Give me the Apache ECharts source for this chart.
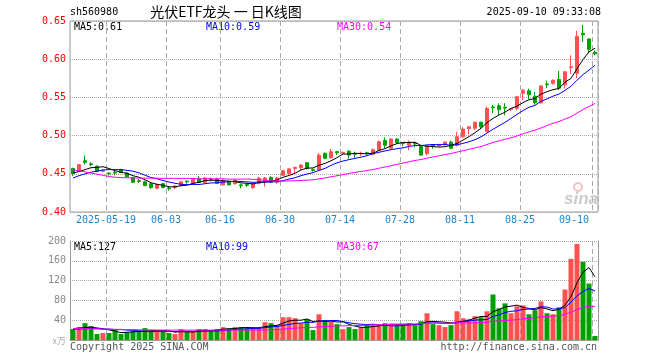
<!DOCTYPE html>
<html><head><meta charset="utf-8">
<script src="https://cdn.jsdelivr.net/npm/echarts@6/dist/echarts.min.js"></script>
<style>html,body{margin:0;padding:0;background:#fff}#c{width:660px;height:360px}</style>
</head><body><div id="c"></div>
<script>
const dates = ['2025-05-09','2025-05-12','2025-05-13','2025-05-14','2025-05-15','2025-05-16','2025-05-19','2025-05-20','2025-05-21','2025-05-22',
'2025-05-23','2025-05-26','2025-05-27','2025-05-28','2025-05-29','2025-05-30','2025-06-03','2025-06-04','2025-06-05','2025-06-06',
'2025-06-09','2025-06-10','2025-06-11','2025-06-12','2025-06-13','2025-06-16','2025-06-17','2025-06-18','2025-06-19','2025-06-20',
'2025-06-23','2025-06-24','2025-06-25','2025-06-26','2025-06-27','2025-06-30','2025-07-01','2025-07-02','2025-07-03','2025-07-04',
'2025-07-07','2025-07-08','2025-07-09','2025-07-10','2025-07-11','2025-07-14','2025-07-15','2025-07-16','2025-07-17','2025-07-18',
'2025-07-21','2025-07-22','2025-07-23','2025-07-24','2025-07-25','2025-07-28','2025-07-29','2025-07-30','2025-07-31','2025-08-01',
'2025-08-04','2025-08-05','2025-08-06','2025-08-07','2025-08-08','2025-08-11','2025-08-12','2025-08-13','2025-08-14','2025-08-15',
'2025-08-18','2025-08-19','2025-08-20','2025-08-21','2025-08-22','2025-08-25','2025-08-26','2025-08-27','2025-08-28','2025-08-29',
'2025-09-01','2025-09-02','2025-09-03','2025-09-04','2025-09-05','2025-09-08','2025-09-09','2025-09-10'];
const tickIdx = [6,16,25,35,45,55,65,75,87];
const tickLabels = ['2025-05-19','06-03','06-16','06-30','07-14','07-28','08-11','08-25','09-10'];

const openP = [.457,.453,.467,.463,.460,.4535,.451,.452,.4555,.451,
.445,.441,.4395,.437,.431,.437,.4315,.432,.4345,.4405,
.4375,.444,.4385,.4435,.443,.4355,.440,.437,.4355,.436,
.432,.4375,.440,.4453,.439,.448,.4505,.457,.458,.4645,
.4555,.455,.4768,.471,.479,.477,.4795,.4765,.476,.4775,
.4755,.481,.4935,.4835,.4955,.4905,.4875,.490,.4855,.4765,
.4875,.4865,.4885,.4915,.4875,.4985,.509,.5095,.5175,.5055,
.5375,.539,.537,.5345,.5357,.5555,.5585,.5515,.543,.5675,
.5685,.5735,.5665,.589,.5815,.634,.6265,.609];
const closeP = [.450,.462,.465,.462,.453,.4545,.450,.451,.4515,.446,
.439,.440,.4345,.432,.436,.432,.4305,.434,.4395,.4395,
.4435,.4385,.4445,.4425,.4375,.4415,.4355,.4415,.4345,.435,
.437,.4445,.4445,.4395,.4445,.454,.4565,.4585,.4615,.457,
.4545,.4745,.4703,.479,.4775,.478,.4745,.4755,.477,.4765,
.4815,.492,.4875,.4955,.491,.4895,.4915,.489,.4745,.4865,
.4865,.4885,.4915,.4835,.4985,.5085,.5115,.5175,.5115,.5355,
.5365,.534,.536,.5355,.5508,.5595,.5535,.543,.565,.5665,
.5725,.562,.5835,.590,.630,.632,.613,.607];
const highP = [.458,.463,.474,.465,.461,.456,.452,.454,.4565,.452,
.446,.443,.441,.438,.437,.438,.434,.435,.440,.441,
.444,.447,.446,.445,.445,.443,.441,.443,.437,.438,
.438,.446,.446,.447,.446,.455,.457,.459,.4625,.465,
.457,.477,.478,.4825,.480,.479,.481,.479,.479,.479,
.483,.4935,.4975,.4965,.497,.491,.4935,.492,.4875,.487,
.489,.489,.492,.4935,.505,.511,.512,.518,.518,.538,
.540,.5423,.5425,.536,.552,.5605,.5615,.557,.566,.572,
.5735,.5845,.5845,.605,.637,.6448,.627,.6115];
const lowP = [.447,.452,.462,.460,.452,.452,.448,.448,.451,.445,
.438,.438,.434,.430,.430,.431,.428,.430,.434,.437,
.437,.438,.437,.440,.437,.435,.435,.436,.431,.433,
.430,.436,.433,.438,.437,.447,.449,.451,.455,.4555,
.453,.4545,.469,.470,.4745,.476,.4695,.471,.473,.474,
.474,.480,.4835,.482,.489,.486,.481,.4845,.4735,.474,
.483,.486,.487,.4825,.486,.497,.5015,.507,.5085,.504,
.529,.527,.5265,.532,.533,.5465,.5475,.5405,.5415,.562,
.5665,.5595,.5615,.5805,.575,.6225,.6077,.605];
const volume = [22,26,34,28,12,14,14,22,12,16,
18,18,24,18,18,18,14,12,22,16,
16,22,22,18,22,26,24,26,26,24,
24,24,36,34,30,46,46,44,34,42,
20,52,40,38,32,22,26,22,26,32,
30,32,34,32,30,30,34,30,38,54,
32,30,26,30,58,44,42,48,46,58,
92,64,74,54,68,70,52,60,78,54,
52,66,102,164,194,158,114,8];

const ma5Head = [.451,.453,.4555,.458];
const ma10Head = [.4445,.4475,.450,.452,.4535,.455,.4555,.4555,.4555];
const ma30Head = [.455,.454,.4525,.451,.4495,.448,.4465,.4455,.445,.4448,.4445,.4443,.4443,.4443,.4443,.444,.444,.444,.444,.444,.444,.4435,.4435,.4435,.4435,.4435,.443,.443,.443];
const volMa5Head = [23,24,25,26];
const volMa10Head = [22,22,23,23,23,22,22,21,21];
const volMa30Head = [23,23,23,22.5,22.5,22,22,21.5,21.5,21,21,20.5,20.5,20.5,20,20,20,20,20,20,20,20,20,20,20,20,20,20,20];

function movingAvg(vals, n, head) {
  return vals.map((v, i) => {
    if (i < n - 1) return head[i];
    let s = 0;
    for (let k = i - n + 1; k <= i; k++) s += vals[k];
    return s / n;
  });
}
const ma5 = movingAvg(closeP, 5, ma5Head);
const ma10 = movingAvg(closeP, 10, ma10Head);
const ma30 = movingAvg(closeP, 30, ma30Head);
const vma5 = movingAvg(volume, 5, volMa5Head);
const vma10 = movingAvg(volume, 10, volMa10Head);
const vma30 = movingAvg(volume, 30, volMa30Head);
const last = a => a[a.length - 1];

const RED = '#ff5050', GREEN = '#00a000';
const MONO = 'DejaVu Sans Mono';
const splitX = {show: true, interval: (i) => tickIdx.includes(i), lineStyle: {color: '#aaa', type: [5, 3], width: 1}};

const chart = echarts.init(document.getElementById('c'), null, {renderer: 'canvas'});
chart.setOption({
  animation: false,
  backgroundColor: '#fff',
  grid: [
    {left: 70, top: 21, width: 528, height: 191, show: true, borderColor: '#999', borderWidth: 1},
    {left: 70, top: 241, width: 528, height: 99}
  ],
  xAxis: [
    {type: 'category', gridIndex: 0, data: dates, boundaryGap: true,
     axisLine: {show: false}, axisTick: {show: false},
     axisLabel: {interval: (i) => tickIdx.includes(i), formatter: (v, i) => tickLabels[tickIdx.indexOf(i)] || '',
       color: '#1c86d1', fontFamily: MONO, fontSize: 10, margin: 3, padding: [0, 6, 0, 0], alignMaxLabel: 'right'},
     splitLine: splitX},
    {type: 'category', gridIndex: 1, data: dates, boundaryGap: true, position: 'top',
     axisLine: {show: true, lineStyle: {color: '#999'}}, axisTick: {show: false}, axisLabel: {show: false},
     splitLine: splitX}
  ],
  yAxis: [
    {type: 'value', gridIndex: 0, min: 0.40, max: 0.65, interval: 0.05,
     axisLine: {show: false}, axisTick: {show: false},
     axisLabel: {color: '#ff0000', fontFamily: MONO, fontSize: 10, margin: 4, formatter: v => v.toFixed(2)},
     splitLine: {show: true, lineStyle: {color: '#aaa', type: 'dotted'}}},
    {type: 'value', gridIndex: 1, min: 0, max: 200, interval: 40,
     axisLine: {show: true, lineStyle: {color: '#999'}}, axisTick: {show: false},
     axisLabel: {color: '#888', fontFamily: MONO, fontSize: 10, margin: 4, formatter: v => v === 0 ? '' : String(v)},
     splitLine: {show: true, lineStyle: {color: '#aaa', type: 'dotted'}}},
    {type: 'value', gridIndex: 1, min: 0, max: 200, position: 'right',
     axisLine: {show: true, lineStyle: {color: '#999'}}, axisTick: {show: false}, axisLabel: {show: false},
     splitLine: {show: false}}
  ],
  series: [
    {type: 'candlestick', xAxisIndex: 0, yAxisIndex: 0, barWidth: 4,
     data: dates.map((d, i) => [openP[i], closeP[i], lowP[i], highP[i]]),
     itemStyle: {color: RED, color0: GREEN, borderColor: RED, borderColor0: GREEN, borderWidth: 1}},
    {type: 'line', xAxisIndex: 0, yAxisIndex: 0, data: ma5, showSymbol: false, lineStyle: {color: '#000', width: 1}},
    {type: 'line', xAxisIndex: 0, yAxisIndex: 0, data: ma10, showSymbol: false, lineStyle: {color: '#0000ff', width: 1}},
    {type: 'line', xAxisIndex: 0, yAxisIndex: 0, data: ma30, showSymbol: false, lineStyle: {color: '#ff00ff', width: 1}},
    {type: 'bar', xAxisIndex: 1, yAxisIndex: 1, barWidth: 5, data: volume,
     itemStyle: {color: p => closeP[p.dataIndex] >= openP[p.dataIndex] ? RED : GREEN}},
    {type: 'line', xAxisIndex: 1, yAxisIndex: 1, data: vma5, showSymbol: false, lineStyle: {color: '#000', width: 1}},
    {type: 'line', xAxisIndex: 1, yAxisIndex: 1, data: vma10, showSymbol: false, lineStyle: {color: '#0000ff', width: 1}},
    {type: 'line', xAxisIndex: 1, yAxisIndex: 1, data: vma30, showSymbol: false, lineStyle: {color: '#ff00ff', width: 1}}
  ],
  graphic: [
    {type: 'text', x: 70, y: 12, style: {text: 'sh560980', fill: '#000', font: '10px ' + MONO, verticalAlign: 'middle', textVerticalAlign: 'middle'}},
    {type: 'text', x: 226, y: 12, style: {text: '光伏ETF龙头 一 日K线图', fill: '#000', font: '14px "Noto Sans CJK SC"', align: 'center', textAlign: 'center', verticalAlign: 'middle', textVerticalAlign: 'middle'}},
    {type: 'text', x: 601, y: 12, style: {text: '2025-09-10 09:33:08', fill: '#000', font: '10px ' + MONO, align: 'right', textAlign: 'right', verticalAlign: 'middle', textVerticalAlign: 'middle'}},
    {type: 'text', x: 74, y: 27, style: {text: 'MA5:' + last(ma5).toFixed(2), fill: '#000', font: '10px ' + MONO, verticalAlign: 'middle', textVerticalAlign: 'middle'}},
    {type: 'text', x: 206, y: 27, style: {text: 'MA10:' + last(ma10).toFixed(2), fill: '#0000ff', font: '10px ' + MONO, verticalAlign: 'middle', textVerticalAlign: 'middle'}},
    {type: 'text', x: 337, y: 27, style: {text: 'MA30:' + last(ma30).toFixed(2), fill: '#ff00ff', font: '10px ' + MONO, verticalAlign: 'middle', textVerticalAlign: 'middle'}},
    {type: 'text', x: 74, y: 247, style: {text: 'MA5:' + Math.floor(last(vma5)), fill: '#000', font: '10px ' + MONO, verticalAlign: 'middle', textVerticalAlign: 'middle'}},
    {type: 'text', x: 206, y: 247, style: {text: 'MA10:' + Math.floor(last(vma10)), fill: '#0000ff', font: '10px ' + MONO, verticalAlign: 'middle', textVerticalAlign: 'middle'}},
    {type: 'text', x: 337, y: 247, style: {text: 'MA30:' + Math.floor(last(vma30)), fill: '#ff00ff', font: '10px ' + MONO, verticalAlign: 'middle', textVerticalAlign: 'middle'}},
    {type: 'text', x: 66, y: 341, style: {text: 'x万', fill: '#aaa', font: '9px "Noto Sans CJK SC"', align: 'right', textAlign: 'right', verticalAlign: 'middle', textVerticalAlign: 'middle'}},
    {type: 'text', x: 70, y: 347, style: {text: 'Copyright 2025 SINA.COM', fill: '#555', font: '10px ' + MONO, verticalAlign: 'middle', textVerticalAlign: 'middle'}},
    {type: 'text', x: 597, y: 347, style: {text: 'http://finance.sina.com.cn', fill: '#555', font: '10px ' + MONO, align: 'right', textAlign: 'right', verticalAlign: 'middle', textVerticalAlign: 'middle'}},
    {type: 'circle', shape: {cx: 578, cy: 187, r: 4}, style: {fill: 'none', stroke: 'rgba(230,120,120,0.45)', lineWidth: 2}},
    {type: 'text', x: 581, y: 199, style: {text: 'sina', fill: 'rgba(160,160,160,0.55)', font: 'italic bold 17px "Liberation Sans"', align: 'center', textAlign: 'center', verticalAlign: 'middle', textVerticalAlign: 'middle'}}
  ]
});
</script>
</body></html>
